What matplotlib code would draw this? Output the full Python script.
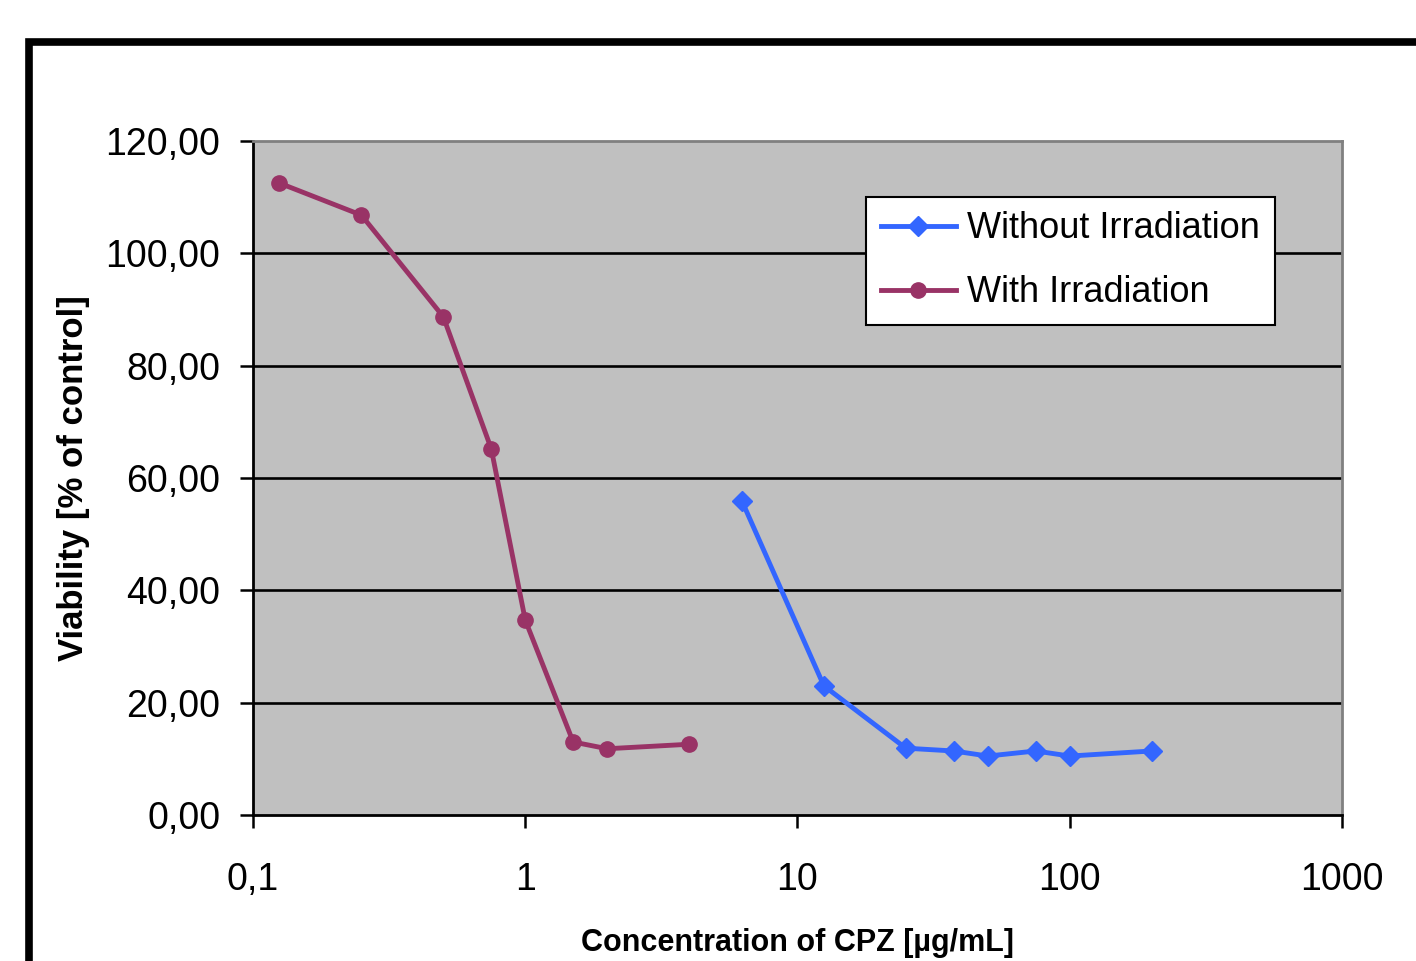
import matplotlib
matplotlib.use('Agg')
from matplotlib import pyplot as plt
from matplotlib.patches import Rectangle

plt.rcParams['font.family'] = ['Liberation Sans', 'DejaVu Sans']

# without irradiation
conc_without = [6.25, 12.5, 25, 37.5, 50, 75, 100, 200]
viab_without = [55.9, 23.0, 11.9, 11.4, 10.5, 11.4, 10.5, 11.4]

# with irradiation
conc_with = [0.125, 0.25, 0.5, 0.75, 1, 1.5, 2, 4]
viab_with = [112.5, 106.8, 88.7, 65.2, 34.7, 13.0, 11.8, 12.6]

x_ticks = [0.1, 1, 10, 100, 1000]
x_tick_labels = ['0,1', '1', '10', '100', '1000']
y_ticks = [0, 20, 40, 60, 80, 100, 120]
y_tick_labels = ['0,00', '20,00', '40,00', '60,00', '80,00', '100,00', '120,00']

fig = plt.figure(figsize=(14.16, 9.61), dpi=100)
ax = fig.add_axes([0.1787, 0.1519, 0.7690, 0.7014])
ax.set_facecolor('#C0C0C0')

# outer chart frame
fig.patches.append(Rectangle((29/1416, -0.2), 1.2, 1.2 - 42/961,
                             transform=fig.transFigure, fill=False,
                             edgecolor='black', linewidth=5.5, zorder=0))

ax.set_xscale('log')
ax.set_xlim(0.1, 1000)
ax.set_ylim(0, 120)

for y in y_ticks[1:-1]:
    ax.axhline(y, color='black', linewidth=1.9, zorder=1)

ax.plot(conc_without, viab_without, color='#3366FF', linewidth=3.5, marker='D',
        markersize=10, label='Without Irradiation', zorder=3)
ax.plot(conc_with, viab_with, color='#993366', linewidth=3.5, marker='o',
        markersize=11, label='With Irradiation', zorder=3)

ax.set_xticks(x_ticks)
ax.set_xticklabels(x_tick_labels)
ax.minorticks_off()
ax.set_yticks(y_ticks)
ax.set_yticklabels(y_tick_labels)
ax.tick_params(axis='both', labelsize=27, length=9.5, width=1.8, direction='out',
               colors='black')
ax.tick_params(axis='x', pad=24)
ax.tick_params(axis='y', pad=14)

for s in ['left', 'bottom']:
    ax.spines[s].set_color('black')
    ax.spines[s].set_linewidth(2)
for s in ['top', 'right']:
    ax.spines[s].set_color('#808080')
    ax.spines[s].set_linewidth(2)

ax.set_xlabel('Concentration of CPZ [\u00b5g/mL]', fontsize=22, fontweight='bold',
              labelpad=22)
ax.set_ylabel('Viability [% of control]', fontsize=25, fontweight='bold',
              labelpad=11)

leg = ax.legend(loc='upper left', bbox_to_anchor=(0.563, 0.917), borderaxespad=0,
                fontsize=26, fancybox=False, framealpha=1, edgecolor='black',
                handlelength=2.1, handletextpad=0.3, labelspacing=0.8,
                borderpad=0.4)
leg.get_frame().set_linewidth(1.5)

fig.savefig('out.png', dpi=100)
